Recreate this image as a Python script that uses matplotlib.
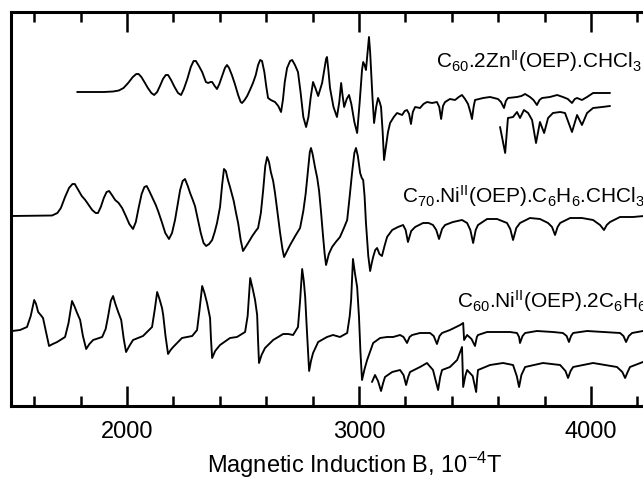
import matplotlib
matplotlib.use("Agg")
import matplotlib.pyplot as plt
from matplotlib.ticker import MultipleLocator

plt.rcParams['font.family'] = ['Liberation Sans', 'DejaVu Sans']
plt.rcParams['mathtext.fontset'] = 'custom'
plt.rcParams['mathtext.rm'] = 'Liberation Sans'
plt.rcParams['mathtext.default'] = 'regular'

# ---- C60.2Zn(OEP).CHCl3 (main trace) : field (1e-4 T), signal ----
zn_B = [1785, 1900, 1940, 1965, 1985, 2005, 2025, 2040, 2050, 2062, 2075, 2090, 2105, 2117,
        2130, 2142, 2155, 2167, 2177, 2190, 2205, 2220, 2233, 2245, 2260, 2275, 2287, 2297,
        2310, 2324, 2340, 2350, 2360, 2367, 2378, 2388, 2398, 2410, 2422, 2431, 2440, 2452,
        2465, 2479, 2490, 2496, 2507, 2518, 2530, 2543, 2555, 2565, 2574, 2582, 2592, 2600,
        2608, 2620, 2638, 2652, 2664, 2672, 2680, 2690, 2703, 2712, 2724, 2737, 2748, 2760,
        2772, 2782, 2792, 2802, 2812, 2824, 2832, 2841, 2850, 2858, 2862, 2868, 2875, 2890,
        2905, 2915, 2923, 2929, 2936, 2947, 2957, 2967, 2980, 2992, 3003, 3013, 3018, 3024,
        3030, 3037, 3043, 3048, 3058, 3065, 3074, 3082, 3089, 3095, 3102, 3108, 3116, 3125,
        3134, 3150, 3164, 3175, 3186, 3197, 3207, 3216, 3224, 3232, 3242, 3263, 3278, 3293,
        3315, 3336, 3346, 3354, 3362, 3371, 3392, 3414, 3430, 3444, 3457, 3470, 3480, 3487,
        3494, 3500, 3535, 3565, 3599, 3612, 3625, 3633, 3642, 3681, 3700, 3716, 3737, 3752,
        3767, 3778, 3789, 3823, 3854, 3879, 3900, 3918, 3930, 3940, 3961, 3983, 4009, 4048,
        4082]
zn_I = [0, 0, 0.5, 1.5, 4, 9, 15, 18, 18, 15, 10, 4, -1, -3,
        0, 6, 13, 17, 17, 12, 5, -1, -3, 3, 13, 25, 31, 31,
        26, 20, 10, 9, 10, 10, 6, 3, 8, 16, 24, 27, 24, 17,
        8, -3, -10, -11, -8, -4, 2, 9, 17, 27, 32, 31, 20, 6,
        -6, -8, -10, -14, -20, -8, 10, 24, 31, 32, 27, 20, 0, -25,
        -35, -25, -5, 10, 4, -4, 2, 9, 22, 33, 35, 22, 4, -15,
        -25, -10, 9, -3, -15, -7, -3, -12, -30, -41, -10, 22, 30, 27,
        22, 40, 55, 40, -5, -31, -15, -6, -10, -15, -40, -68, -55, -40,
        -31, -25, -21, -22, -23, -19, -18, -22, -32, -20, -15, -16, -12, -10,
        -11, -10, -15, -27, -14, -10, -7, -8, -5, -3, -7, -12, -20, -27,
        -15, -8, -6, -5, -7, -10, -16, -9, -6, -5, -4, -2, -5, -8,
        -13, -8, -6, -5, -3, -5, -7, -11, -7, -6, -8, -5, -1, -1,
        -1]

# ---- C60.2Zn(OEP).CHCl3 (expanded high-field trace) ----
zn2_B = [3608, 3630, 3642, 3664, 3681, 3694, 3711, 3729, 3746, 3763, 3780, 3798, 3815, 3836,
         3867, 3888, 3918, 3940, 3961, 3983, 4009, 4048, 4082]
zn2_I = [-35, -61, -26, -25, -20, -26, -18, -21, -28, -51, -30, -41, -26, -21,
         -20, -21, -40, -23, -33, -21, -16, -15, -14]

# ---- C70.Ni(OEP).C6H6.CHCl3 ----
c70_B = [1505, 1677, 1700, 1715, 1733, 1750, 1765, 1775, 1790, 1805, 1820, 1835, 1850, 1865,
         1875, 1887, 1900, 1912, 1923, 1935, 1949, 1964, 1979, 1995, 2010, 2026, 2038, 2050,
         2063, 2075, 2085, 2098, 2112, 2124, 2134, 2150, 2165, 2181, 2194, 2207, 2218, 2229,
         2240, 2250, 2262, 2272, 2282, 2293, 2305, 2318, 2330, 2341, 2354, 2367, 2378, 2388,
         2401, 2410, 2418, 2426, 2435, 2444, 2452, 2460, 2470, 2479, 2490, 2500, 2511, 2522,
         2540, 2555, 2565, 2577, 2587, 2596, 2604, 2612, 2620, 2630, 2638, 2648, 2660, 2670,
         2677, 2690, 2703, 2725, 2746, 2760, 2770, 2780, 2788, 2793, 2800, 2811, 2820, 2828,
         2836, 2845, 2852, 2858, 2870, 2884, 2900, 2918, 2935, 2949, 2960, 2970, 2980, 2987,
         2995, 3005, 3012, 3018, 3024, 3030, 3040, 3048, 3055, 3061, 3070, 3078, 3088, 3099,
         3110, 3121, 3143, 3168, 3190, 3201, 3211, 3225, 3242, 3276, 3300, 3319, 3333, 3345,
         3358, 3371, 3405, 3444, 3466, 3480, 3492, 3503, 3513, 3552, 3595, 3638, 3652, 3664,
         3678, 3694, 3737, 3780, 3815, 3832, 3845, 3856, 3867, 3910, 3961, 4009, 4039, 4056,
         4068, 4082, 4125, 4181, 4224, 4400]
c70_I = [0, 0.5, 3, 8, 19, 28, 32, 32, 26, 20, 16, 11, 6, 3,
         3, 9, 18, 24, 25, 21, 16, 13, 8, 0, -8, -13, -6, 8,
         22, 29, 30, 24, 17, 11, 5, -6, -17, -23, -17, -4, 11, 26,
         35, 37, 30, 23, 17, 10, -3, -17, -27, -30, -28, -24, -16, -7,
         9, 31, 47, 45, 36, 29, 22, 15, 3, -7, -24, -35, -31, -27,
         -20, -15, -12, 3, 26, 50, 59, 54, 44, 35, 23, 5, -17, -33,
         -41, -35, -29, -20, -12, 5, 22, 45, 64, 68, 62, 48, 38, 25,
         5, -20, -38, -49, -38, -31, -26, -21, -12, -4, 20, 43, 63, 68,
         60, 43, 38, 36, 20, -7, -40, -55, -47, -41, -34, -32, -38, -40,
         -30, -21, -14, -11, -9, -14, -26, -15, -11, -7, -7, -9, -14, -23,
         -13, -9, -6, -4, -7, -14, -27, -14, -9, -3, -3, -7, -13, -24,
         -12, -7, -2, -3, -7, -11, -19, -11, -7, -2, -2, -4, -9, -14,
         -9, -6, -1, -1, 0, 0]

# ---- C60.Ni(OEP).2C6H6 (main trace) ----
ni_B = [1505, 1539, 1569, 1585, 1600, 1608, 1617, 1628, 1638, 1650, 1664, 1680, 1699, 1733,
        1748, 1763, 1773, 1785, 1798, 1810, 1824, 1838, 1854, 1893, 1908, 1918, 1930, 1940,
        1950, 1962, 1975, 1986, 1996, 2010, 2026, 2069, 2108, 2120, 2130, 2140, 2151, 2156,
        2166, 2177, 2188, 2199, 2237, 2281, 2302, 2312, 2324, 2334, 2345, 2358, 2362, 2367,
        2380, 2401, 2444, 2474, 2509, 2520, 2531, 2542, 2552, 2561, 2565, 2569, 2580, 2595,
        2630, 2673, 2695, 2716, 2737, 2746, 2755, 2762, 2768, 2772, 2776, 2785, 2793, 2802,
        2824, 2862, 2888, 2918, 2949, 2960, 2966, 2974, 2983, 2992, 3000, 3006, 3013, 3024,
        3035, 3061, 3091, 3121, 3147, 3177, 3192, 3207, 3218, 3229, 3263, 3306, 3322, 3336,
        3347, 3358, 3392, 3436, 3449, 3453, 3466, 3485, 3500, 3508, 3513, 3552, 3595, 3651,
        3681, 3690, 3694, 3705, 3716, 3767, 3836, 3879, 3895, 3905, 3914, 3923, 3983, 4052,
        4125, 4140, 4151, 4163, 4177, 4224, 4400]
ni_I = [0, 1, 4, 15, 31, 27, 19, 16, 13, 0, -15, -13, -11, -6,
        8, 30, 25, 18, 11, -5, -18, -13, -9, -6, 2, 14, 30, 35,
        27, 19, 11, -8, -21, -15, -9, -5, 4, 22, 39, 32, 23, 16,
        -5, -23, -19, -16, -7, -5, 1, 20, 45, 38, 28, 13, -8, -27,
        -20, -14, -7, -6, -1, 15, 53, 42, 31, 16, -10, -32, -24, -17,
        -9, -3, -3, -4, 4, 30, 62, 50, 34, 15, -2, -40, -30, -22,
        -11, -6, -4, -6, -2, 15, 31, 72, 57, 44, 14, -20, -49, -38,
        -29, -12, -7, -6, -6, -4, -6, -12, -6, -4, -2, -2, -5, -13,
        -5, -2, 1, 6, 8, -9, -4, -8, -15, -6, -4, -1, -1, -1,
        -2, -6, -12, -5, -2, 0, -1, -2, -5, -11, -5, -2, 0, -1,
        -2, -5, -11, -5, -2, 0, 0]

# ---- C60.Ni(OEP).2C6H6 (expanded high-field trace) ----
ni2_B = [3056, 3069, 3082, 3095, 3104, 3112, 3143, 3177, 3192, 3203, 3212, 3220, 3263, 3293,
         3319, 3331, 3341, 3350, 3358, 3392, 3423, 3444, 3449, 3458, 3466, 3490, 3505, 3509,
         3513, 3565, 3621, 3664, 3680, 3690, 3700, 3716, 3793, 3867, 3890, 3901, 3912, 3923,
         4009, 4112, 4135, 4147, 4158, 4168, 4224, 4400]
ni2_I = [-51, -44, -50, -60, -52, -46, -41, -39, -44, -54, -46, -41, -36, -32,
         -39, -50, -59, -46, -39, -36, -29, -16, -56, -45, -39, -45, -61, -48,
         -39, -34, -32, -34, -45, -56, -44, -36, -32, -34, -40, -47, -40, -36,
         -32, -36, -41, -47, -41, -36, -31, -31]

offsets = {'zn': 314, 'c70': 190, 'ni': 75}

labels = [r"C$_{60}$.2Zn$^{II}$(OEP).CHCl$_3$",
          r"C$_{70}$.Ni$^{II}$(OEP).C$_6$H$_6$.CHCl$_3$",
          r"C$_{60}$.Ni$^{II}$(OEP).2C$_6$H$_6$"]
label_B = [3330, 3186, 3423]
label_y = [338, 203, 98]

fig = plt.figure(figsize=(6.43, 4.78), dpi=100)
ax = fig.add_axes([11/643, 72/478, 2900*0.232/643, 394/478])

lw = 1.35
kw = dict(color='black', lw=lw, solid_joinstyle='round', solid_capstyle='round')
ax.plot(zn_B, [v + offsets['zn'] for v in zn_I], **kw)
ax.plot(zn2_B, [v + offsets['zn'] for v in zn2_I], **kw)
ax.plot(c70_B, [v + offsets['c70'] for v in c70_I], **kw)
ax.plot(ni_B, [v + offsets['ni'] for v in ni_I], **kw)
ax.plot(ni2_B, [v + offsets['ni'] for v in ni2_I], **kw)

for t, bx, by in zip(labels, label_B, label_y):
    ax.text(bx, by, t, fontsize=15, va='baseline', ha='left')

ax.set_xlim(1500, 4400)
ax.set_ylim(0, 394)
ax.set_yticks([])
ax.xaxis.set_major_locator(MultipleLocator(1000))
ax.xaxis.set_minor_locator(MultipleLocator(200))
ax.tick_params(axis='x', which='both', direction='in', top=True, bottom=True,
               labelsize=17, pad=11)
ax.tick_params(axis='x', which='major', length=14.5, width=1.8)
ax.tick_params(axis='x', which='minor', length=7.5, width=1.8)
for s in ax.spines.values():
    s.set_linewidth(2.2)
ax.set_xlabel(r"Magnetic Induction B, 10$^{-4}$T", fontsize=17)
ax.xaxis.set_label_coords((354.5 - 11) / (2900 * 0.232), -0.11)

fig.savefig("out.png", dpi=100)
